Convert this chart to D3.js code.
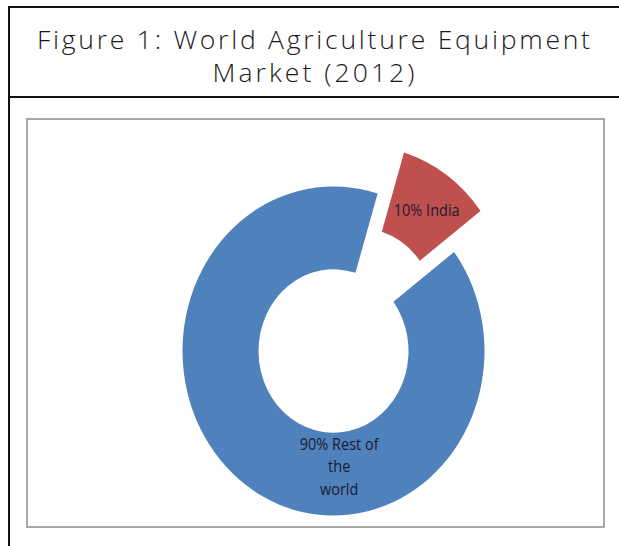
<!DOCTYPE html>
<html>
<head>
<meta charset="utf-8">
<script src="https://cdn.jsdelivr.net/npm/d3@7"></script>
<style>
  html, body { margin: 0; padding: 0; background: #fff; }
  svg { display: block; }
</style>
</head>
<body>
<svg id="chart" width="619" height="546"></svg>
<script>
// ---- data ----
const titleLines = ["Figure 1: World Agriculture Equipment", "Market (2012)"];
const categories = ["India", "Rest of the world"];
const shares = [10, 90];
const labelLines = [["10% India"], ["90% Rest of", "the", "world"]];
const colors = ["#C0504D", "#4F81BD"];

// ---- layout ----
const W = 619, H = 546;
const svg = d3.select("#chart");

// table frame
svg.append("line").attr("x1", 9).attr("x2", W).attr("y1", 7).attr("y2", 7)
  .attr("stroke", "#111").attr("stroke-width", 2);
svg.append("line").attr("x1", 9).attr("x2", 9).attr("y1", 6).attr("y2", H)
  .attr("stroke", "#111").attr("stroke-width", 2);
svg.append("line").attr("x1", 9).attr("x2", W).attr("y1", 97).attr("y2", 97)
  .attr("stroke", "#111").attr("stroke-width", 2);

// title
const titleWidths = [553, 202];
const title = svg.append("text")
  .attr("font-family", "'Open Sans', 'Noto Sans', sans-serif")
  .attr("font-weight", 300)
  .attr("font-size", 26.5)
  .attr("fill", "#1a1a1a")
  .attr("text-anchor", "middle");
titleLines.forEach((t, i) => {
  title.append("tspan").attr("x", 313.5).attr("y", 49 + i * 33)
    .attr("textLength", titleWidths[i]).attr("lengthAdjust", "spacing").text(t);
});

// chart area box
svg.append("rect").attr("x", 27).attr("y", 119).attr("width", 577).attr("height", 408)
  .attr("fill", "#fff").attr("stroke", "#a8a8a8").attr("stroke-width", 2);

// donut
const cx = 333.5, cy = 351, R = 151, r0 = 75, sy = 1.09;
const startDeg = 17;
const explode = 46;
const pie = d3.pie().sort(null)
  .startAngle(startDeg * Math.PI / 180)
  .endAngle(startDeg * Math.PI / 180 + 2 * Math.PI);
const arcs = pie(shares);
const arc = d3.arc().innerRadius(r0).outerRadius(R);

const g = svg.append("g").attr("transform", `translate(${cx},${cy}) scale(1,${sy})`);
g.selectAll("path").data(arcs).join("path")
  .attr("d", arc)
  .attr("fill", (d, i) => colors[i])
  .attr("transform", (d, i) => {
    if (i !== 0) return null;
    const a = (d.startAngle + d.endAngle) / 2;
    return `translate(${explode * Math.sin(a)},${-explode * Math.cos(a)})`;
  });

// labels
const labelPos = arcs.map((d, i) => {
  let a, rad;
  if (i === 0) { a = (d.startAngle + d.endAngle) / 2; rad = (R + r0) / 2 + explode; }
  else { a = Math.PI * 178 / 180; rad = 105; }
  return [cx + rad * Math.sin(a), cy - rad * Math.cos(a) * sy];
});
labelLines.forEach((lines, i) => {
  const [lx, ly] = labelPos[i];
  const lh = 22.5 / 1.12;
  const t = svg.append("text")
    .attr("transform", `translate(${lx + 2},${ly + 1}) scale(1,1.12)`)
    .attr("font-family", "'Open Sans', sans-serif")
    .attr("font-size", 14.5)
    .attr("fill", "#1b1b2f")
    .attr("text-anchor", "middle");
  lines.forEach((s, j) => {
    t.append("tspan").attr("x", 0)
      .attr("y", (j - (lines.length - 1) / 2) * lh)
      .attr("dy", "0.35em").text(s);
  });
});
</script>
</body>
</html>
